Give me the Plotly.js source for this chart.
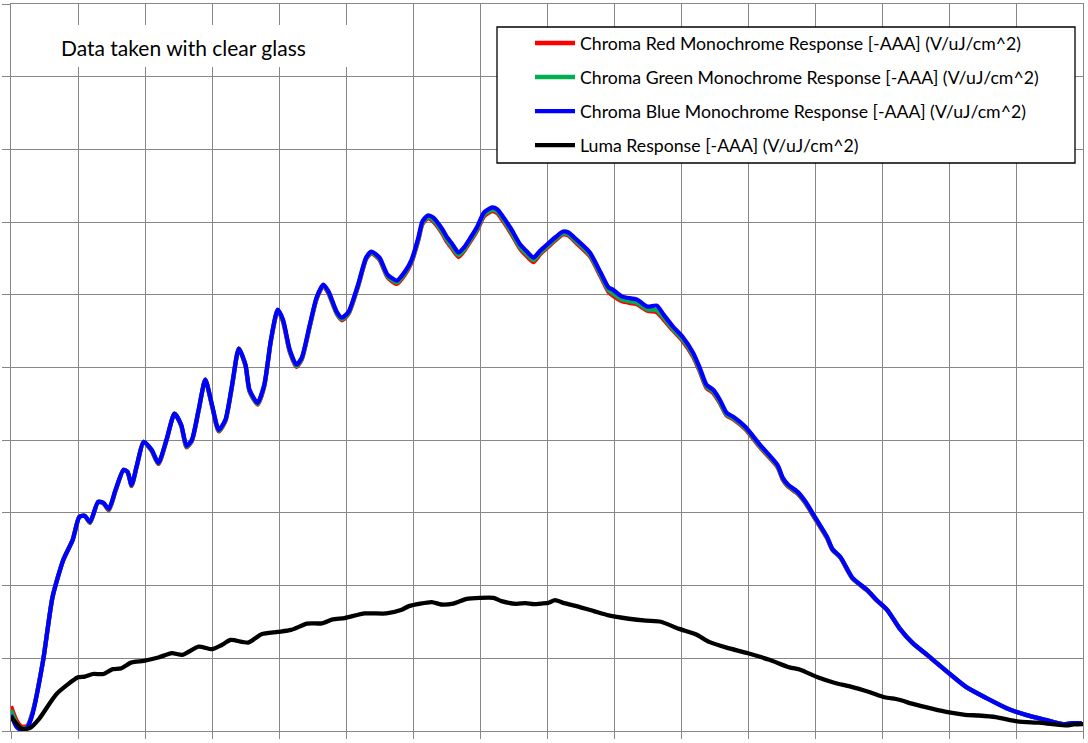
<!DOCTYPE html>
<html>
<head>
<meta charset="utf-8">
<script src="https://cdn.plot.ly/plotly-3.0.1.min.js"></script>
<style>html,body{margin:0;padding:0;background:#fff;}#chart{width:1088px;height:743px;}</style>
</head>
<body>
<div id="chart"></div>
<script>
// Wavelength-like x positions (nm) for the chroma series
const chromaX = [300,304,308,312,316,324,331,339,346,351,
355,359,365,369,373,378,384,387,390,394,
399,405,410,416,422,427,431,435,440,445,
450,455,460,465,470,475,478,484,489,494,
499,503,508,513,517,523,528,533,537,543,
547,552,559,565,569,575,581,588,594,599,
604,607,611,615,622,625,629,634,638,643,
648,653,659,663,667,673,680,685,690,695,
700,706,712,716,722,732,740,746,749,756,
767,775,782,787,794,801,809,814,819,824,
829,834,839,848,859,872,876,880,887,893,
899,909,913,919,928,939,946,954,963,973,
984,991,999,1013,1028,1043,1058,1073,1085,1092,
1099];

const redResponse = [0.340,0.150,0.060,0.070,0.250,0.975,1.843,2.353,2.628,2.945,
2.959,2.860,3.152,3.130,3.035,3.300,3.592,3.560,3.370,3.650,
3.978,3.850,3.670,3.990,4.364,4.200,3.900,3.990,4.400,4.832,
4.470,4.120,4.260,4.745,5.259,5.020,4.670,4.490,4.740,5.370,
5.780,5.630,5.215,5.010,5.110,5.565,5.940,6.120,6.015,5.740,
5.650,5.740,6.110,6.490,6.570,6.480,6.240,6.150,6.280,6.450,
6.750,6.970,7.050,7.010,6.840,6.740,6.640,6.520,6.600,6.740,
6.890,7.080,7.150,7.120,7.020,6.850,6.630,6.530,6.450,6.560,
6.645,6.745,6.830,6.815,6.710,6.530,6.250,6.035,5.990,5.910,
5.870,5.780,5.760,5.660,5.510,5.370,5.150,4.945,4.720,4.650,
4.510,4.340,4.290,4.150,3.900,3.630,3.455,3.360,3.265,3.130,
2.950,2.650,2.490,2.380,2.095,1.930,1.795,1.660,1.412,1.205,
1.040,0.930,0.808,0.602,0.452,0.314,0.218,0.149,0.094,0.107,
0.107];

const greenResponse = [0.290,0.110,0.030,0.055,0.247,0.975,1.843,2.353,2.628,2.945,
2.959,2.868,3.152,3.134,3.045,3.308,3.592,3.562,3.378,3.655,
3.978,3.858,3.680,3.998,4.364,4.206,3.910,3.998,4.410,4.832,
4.478,4.130,4.270,4.752,5.259,5.028,4.680,4.500,4.750,5.376,
5.788,5.642,5.228,5.022,5.120,5.575,5.950,6.130,6.028,5.752,
5.665,5.752,6.122,6.498,6.580,6.494,6.256,6.170,6.298,6.465,
6.765,6.985,7.068,7.032,6.862,6.764,6.665,6.545,6.620,6.760,
6.910,7.102,7.172,7.146,7.046,6.876,6.655,6.558,6.478,6.582,
6.664,6.762,6.848,6.832,6.732,6.552,6.274,6.060,6.022,5.935,
5.892,5.800,5.790,5.685,5.530,5.392,5.172,4.965,4.738,4.668,
4.528,4.354,4.302,4.164,3.915,3.644,3.466,3.372,3.276,3.140,
2.960,2.660,2.496,2.386,2.100,1.935,1.798,1.662,1.414,1.207,
1.042,0.932,0.809,0.603,0.452,0.314,0.218,0.149,0.094,0.107,
0.107];

const blueResponse = [0.220,0.060,0.005,0.040,0.230,0.975,1.843,2.353,2.628,2.945,
2.959,2.876,3.152,3.138,3.055,3.317,3.592,3.565,3.386,3.661,
3.978,3.868,3.689,4.006,4.364,4.212,3.923,4.006,4.419,4.832,
4.488,4.143,4.281,4.763,5.259,5.039,4.694,4.515,4.763,5.383,
5.796,5.658,5.245,5.039,5.135,5.590,5.961,6.140,6.044,5.769,
5.686,5.769,6.140,6.512,6.595,6.512,6.278,6.196,6.320,6.485,
6.788,7.008,7.091,7.063,6.898,6.802,6.705,6.581,6.650,6.788,
6.939,7.132,7.201,7.174,7.077,6.912,6.691,6.595,6.512,6.609,
6.691,6.788,6.871,6.857,6.760,6.581,6.306,6.099,6.072,5.975,
5.934,5.837,5.851,5.727,5.562,5.424,5.204,4.997,4.763,4.694,
4.556,4.377,4.322,4.184,3.936,3.661,3.482,3.386,3.289,3.152,
2.973,2.670,2.504,2.394,2.105,1.939,1.802,1.664,1.416,1.209,
1.044,0.934,0.810,0.603,0.452,0.314,0.218,0.149,0.094,0.107,
0.107];

const lumaX = [300,308,314,321,334,350,355,361,369,376,
382,390,399,410,420,428,440,450,457,464,
477,487,499,509,521,532,540,549,564,580,
591,597,614,621,630,640,650,660,666,677,
684,690,696,701,706,712,722,735,746,761,
774,785,798,811,821,834,850,866,881,889,
902,915,926,941,952,962,973,988,999,1012,
1022,1035,1051,1067,1077,1088,1093,1100];

const lumaResponse = [0.200,0.030,0.040,0.168,0.510,0.738,0.747,0.784,0.784,0.851,
0.861,0.944,0.966,1.011,1.070,1.048,1.161,1.125,1.180,1.252,
1.216,1.331,1.362,1.390,1.477,1.481,1.536,1.554,1.617,1.617,
1.663,1.718,1.773,1.740,1.753,1.818,1.832,1.832,1.787,1.749,
1.759,1.745,1.753,1.763,1.799,1.763,1.718,1.649,1.590,1.544,
1.517,1.503,1.408,1.331,1.226,1.147,1.070,0.979,0.875,0.843,
0.738,0.660,0.614,0.533,0.464,0.433,0.373,0.304,0.259,0.223,
0.213,0.191,0.132,0.114,0.095,0.077,0.091,0.095];

const seriesNames = [
  "Chroma Red Monochrome Response [-AAA] (V/uJ/cm^2)",
  "Chroma Green Monochrome Response [-AAA] (V/uJ/cm^2)",
  "Chroma Blue Monochrome Response [-AAA] (V/uJ/cm^2)",
  "Luma Response [-AAA] (V/uJ/cm^2)"
];
const noteText = "Data taken with clear glass";

const colors = ["#FF0000", "#00B050", "#0000FF", "#000000"];
const xs = [chromaX, chromaX, chromaX, lumaX];
const ys = [redResponse, greenResponse, blueResponse, lumaResponse];

const traces = ys.map((y, i) => ({
  type: "scatter",
  mode: "lines",
  x: xs[i],
  y: y,
  name: seriesNames[i],
  legendgroup: "g" + i,
  line: {color: colors[i], width: 4.3, shape: "spline", smoothing: 0.6}
}));

const W = 1088, H = 743;
const L = 11, R = 5, T = 4, B = 12;
const pw = W - L - R, ph = H - T - B;
const px = v => (v - L) / pw;
const py = v => 1 - (v - T) / ph;

const gridColor = "#878787";
const layout = {
  width: W, height: H,
  margin: {l: L, r: R, t: T, b: B, pad: 0},
  paper_bgcolor: "#ffffff",
  plot_bgcolor: "#ffffff",
  font: {family: "Lato, 'Liberation Sans', sans-serif", color: "#000"},
  showlegend: true,
  xaxis: {
    range: [300, 1100], dtick: 50, tick0: 300,
    showgrid: true, gridcolor: gridColor, gridwidth: 1,
    showline: true, linecolor: gridColor, linewidth: 1, mirror: true,
    ticks: "outside", ticklen: 7, tickcolor: gridColor, tickwidth: 1,
    showticklabels: false, zeroline: false, fixedrange: true
  },
  yaxis: {
    range: [0, 10], dtick: 1, tick0: 0,
    showgrid: true, gridcolor: gridColor, gridwidth: 1,
    showline: true, linecolor: gridColor, linewidth: 1, mirror: true,
    ticks: "outside", ticklen: 8, tickcolor: gridColor, tickwidth: 1,
    showticklabels: false, zeroline: false, fixedrange: true
  },
  legend: {
    x: px(530), xanchor: "left",
    y: py(25), yanchor: "top",
    bgcolor: "rgba(0,0,0,0)", borderwidth: 0,
    font: {family: "Lato, sans-serif", size: 17.7, color: "#000"},
    itemwidth: 40,
    tracegroupgap: 8,
    traceorder: "grouped"
  },
  shapes: [
    {type: "rect", xref: "paper", yref: "paper", layer: "above",
     x0: px(14), x1: px(380), y0: py(67), y1: py(25),
     fillcolor: "#ffffff", line: {width: 0}},
    {type: "rect", xref: "paper", yref: "paper", layer: "above",
     x0: px(497), x1: px(1075), y0: py(163), y1: py(27),
     fillcolor: "#ffffff", line: {color: "#000000", width: 1.3}}
  ],
  annotations: [
    {xref: "paper", yref: "paper", x: px(183), y: py(47),
     xanchor: "center", yanchor: "middle", showarrow: false,
     text: noteText,
     font: {family: "Lato, sans-serif", size: 21, color: "#000"}}
  ]
};

Plotly.newPlot("chart", traces, layout, {displayModeBar: false, staticPlot: true});
</script>
</body>
</html>
